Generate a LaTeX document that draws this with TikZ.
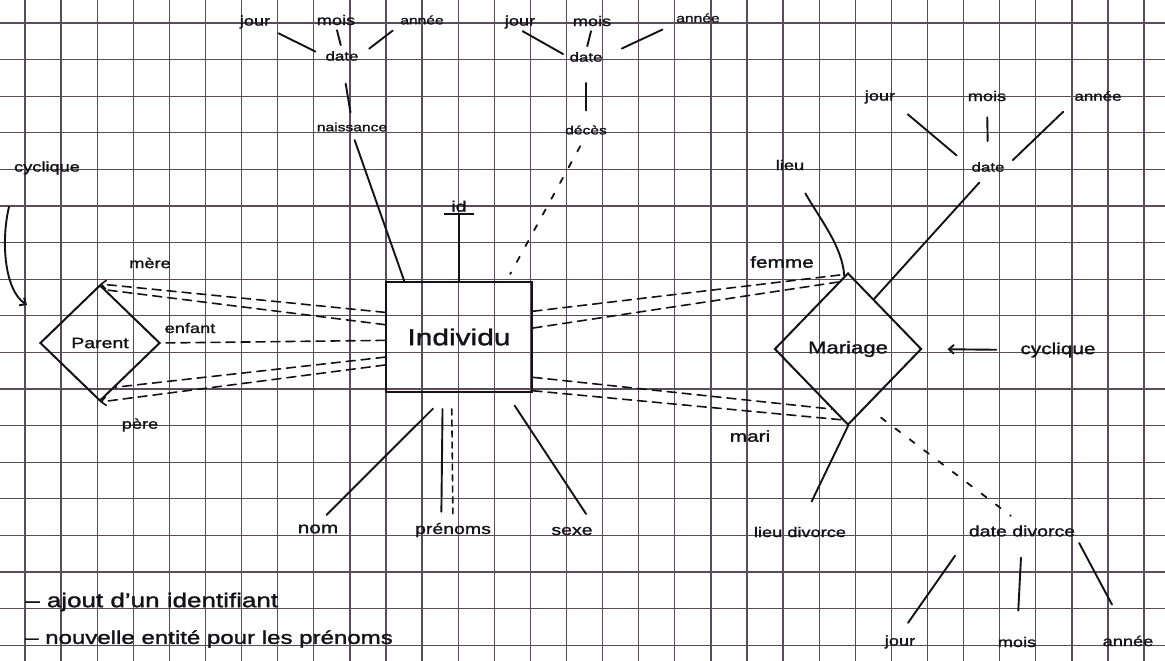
\documentclass[tikz,border=0pt]{standalone}
\usepackage{fontspec}
\setmainfont{Liberation Sans}[FakeStretch=1.3,FakeBold=1.5]
\usetikzlibrary{calc,arrows.meta,shapes.geometric}
\definecolor{ink}{RGB}{18,18,24}
\definecolor{gridc}{RGB}{92,76,90}
\newcommand\myfs[1]{\fontsize{#1}{#1}\selectfont}
\begin{document}
\begin{tikzpicture}[x=1pt,y=-1pt,
  gridline/.style={draw=gridc,line width=1.3pt},
  ink/.style={draw=ink,line width=1.9pt,line cap=round},
  lab/.style={inner sep=1pt,text=ink},
  dsh/.style={ink,line width=1.6pt,dash pattern=on 9pt off 6pt},
  dotl/.style={ink,line width=1.8pt,dash pattern=on 6pt off 12pt},
  pdsh/.style={ink,line width=1.6pt,dash pattern=on 6pt off 5pt},
  tip/.style={-{Straight Barb[length=5pt,width=9pt]}},
  shapebox/.style={draw=ink,line width=2pt,text=ink,inner sep=0pt}]
\useasboundingbox (0,0) rectangle (1165,661);
\fill[white] (0,0) rectangle (1165,661);
% grid
\foreach \i in {0,...,31} \draw[gridline] ({25+36.1*\i},0) -- ({25+36.1*\i},661);
\foreach \j in {0,...,17} \draw[gridline] (0,{23+36.6*\j}) -- (1165,{23+36.6*\j});

% main shapes
\node[shapebox,rectangle,minimum width=146pt,minimum height=110pt,font=\myfs{23}] (ind) at (459,337) {\raisebox{-5pt}{Individu}};
\node[shapebox,diamond,minimum width=120pt,minimum height=116pt,font=\myfs{15}] (par) at (100,343) {Parent};
\node[shapebox,diamond,minimum width=147pt,minimum height=152pt,font=\myfs{17}] (mar) at (848,349) {Mariage};

% naissance group
\node[lab,font=\myfs{14}] (j1) at (255,22) {jour};
\node[lab,font=\myfs{14}] (m1) at (336,20) {mois};
\node[lab,font=\myfs{12}] (a1) at (422,20) {année};
\node[lab,font=\myfs{13}] (d1) at (342,56) {date};
\node[lab,font=\myfs{12}] (nai) at (352,127) {naissance};
\draw[ink,shorten <=8pt,shorten >=10pt] (j1.south east) -- (d1.west);
\draw[ink,shorten <=4pt,shorten >=5pt] (m1.south) -- (d1.north);
\draw[ink,shorten <=8pt,shorten >=12pt] (a1.south west) -- (d1.east);
\draw[ink,shorten <=22pt,shorten >=9pt] (d1.south) -- (nai.north);
\draw[ink,shorten <=8pt] (nai.south) -- ($(ind.north west)!0.13!(ind.north east)$);

% deces group
\node[lab,font=\myfs{14}] (j2) at (520,22) {jour};
\node[lab,font=\myfs{14}] (m2) at (592,21) {mois};
\node[lab,font=\myfs{12}] (a2) at (698,18) {année};
\node[lab,font=\myfs{13}] (d2) at (586,57) {date};
\node[lab,font=\myfs{12}] (dec) at (586,130) {décès};
\draw[ink,shorten <=3pt,shorten >=6pt] (j2.south) -- (d2.west);
\draw[ink,shorten <=4pt,shorten >=5pt] (m2.south) -- (d2.north);
\draw[ink,shorten <=14pt,shorten >=20pt] (a2.south west) -- (d2.east);
\draw[ink,shorten <=20pt,shorten >=14pt] (d2.south) -- (dec.north);
\draw[dotl,shorten <=12pt,shorten >=8pt] (dec.south) -- ($(ind.north west)!0.82!(ind.north east)$);

% id
\node[lab,anchor=south,font=\myfs{15}] (id) at (459,213) {id};
\draw[ink,-{Bar[width=30pt,line width=2.4pt]}] (ind.north) -- (id.south);

% bottom attributes of Individu
\node[lab,font=\myfs{16}] (nom) at (318,529) {nom};
\node[lab,font=\myfs{15}] (pren) at (453,530) {prénoms};
\node[lab,font=\myfs{15}] (sexe) at (572,531) {sexe};
\draw[ink,shorten <=12pt,shorten >=22pt] (nom.north) -- ($(ind.south west)!0.43!(ind.south east)$);
\draw[ink,shorten <=16pt,shorten >=10pt] ($(ind.south west)!0.39!(ind.south east)$) -- ($(pren.north west)!0.35!(pren.north east)$);
\draw[pdsh,shorten <=16pt,shorten >=8pt] ($(ind.south west)!0.45!(ind.south east)$) -- (pren.north);
\draw[ink,shorten <=15pt,shorten >=14pt] ($(ind.south west)!0.82!(ind.south east)$) -- (sexe.north east);

% Parent side
\node[lab,font=\myfs{14}] (mere) at (150,263) {mère};
\node[lab,font=\myfs{14}] (enf) at (190,328) {enfant};
\node[lab,font=\myfs{14}] (pere) at (140,425) {père};
\node[lab,font=\myfs{14}] (cycL) at (47,168) {cyclique};
\coordinate (cycS) at (9,207);
\coordinate (cycE) at (27,305);
\draw[ink,tip] (cycS) .. controls (1,240) and (4,290) .. (cycE);
\draw[dsh,tip] ($(ind.north west)!0.28!(ind.south west)$) -- (par.north);
\draw[dsh] ($(ind.north west)!0.39!(ind.south west)$) -- ($(par.north)!0.1!(par.east)$);
\draw[dsh] ($(ind.north west)!0.53!(ind.south west)$) -- (par.east);
\draw[dsh] ($(ind.north west)!0.68!(ind.south west)$) -- ($(par.south)!0.25!(par.east)$);
\draw[dsh,tip] ($(ind.north west)!0.75!(ind.south west)$) -- (par.south);

% Mariage side
\node[lab,font=\myfs{16}] (fem) at (782,262) {femme};
\node[lab,font=\myfs{16}] (mari) at (750,436) {mari};
\draw[dsh] ($(ind.north east)!0.27!(ind.south east)$) -- ($(mar.north)!0.03!(mar.west)$);
\draw[dsh] ($(ind.north east)!0.42!(ind.south east)$) -- ($(mar.north)!0.13!(mar.west)$);
\draw[dsh] ($(ind.north east)!0.86!(ind.south east)$) -- ($(mar.south)!0.22!(mar.west)$);
\draw[dsh] ($(ind.north east)!0.98!(ind.south east)$) -- ($(mar.south)!0.08!(mar.west)$);

\node[lab,font=\myfs{16}] (cycR) at (1058,350) {cyclique};
\draw[ink,tip,shorten <=23pt,shorten >=25pt] (cycR.west) -- (mar.east);

% mariage date / lieu
\node[lab,font=\myfs{14}] (j3) at (880,97) {jour};
\node[lab,font=\myfs{14}] (m3) at (987,96) {mois};
\node[lab,font=\myfs{13}] (a3) at (1098,96) {année};
\node[lab,font=\myfs{13}] (d3) at (988,167) {date};
\node[lab,font=\myfs{14}] (lieu) at (790,165) {lieu};
\draw[ink,shorten <=15pt,shorten >=18pt] (j3.south east) -- (d3.west);
\draw[ink,shorten <=15pt,shorten >=20pt] (m3.south) -- (d3.north);
\draw[ink,shorten <=14pt,shorten >=10pt] (a3.south west) -- (d3.east);
\draw[ink,shorten <=13pt] (d3.south) -- ($(mar.north)!0.35!(mar.east)$);
\draw[ink] ($(lieu.south east)+(0,22)$) .. controls +(14,25) and +(-2,-30) .. ($(mar.north)!0.05!(mar.west)$);

% divorce
\node[lab,font=\myfs{14}] (ldiv) at (800,532) {lieu divorce};
\node[lab,font=\myfs{15}] (ddiv) at (1022,531) {date divorce};
\draw[ink,shorten >=27pt] (mar.south) -- (ldiv.north);
\draw[dotl,shorten <=18pt,shorten >=14pt] ($(mar.south)!0.25!(mar.east)$) -- (ddiv.north);
\node[lab,font=\myfs{14}] (j4) at (900,642) {jour};
\node[lab,font=\myfs{14}] (m4) at (1017,642) {mois};
\node[lab,font=\myfs{14}] (a4) at (1128,641) {année};
\draw[ink,shorten <=22pt,shorten >=14pt] (ddiv.south west) -- (j4.north);
\draw[ink,shorten <=20pt,shorten >=25pt] (ddiv.south) -- (m4.north);
\draw[ink,shorten <=6pt,shorten >=34pt] (ddiv.south east) -- (a4.north);

% notes
\node[lab,anchor=west,font=\myfs{20}] (n1) at (24,602) {– ajout d'un identifiant};
\node[lab,anchor=west,font=\myfs{18.5}] (n2) at (24,639) {– nouvelle entité pour les prénoms};
\end{tikzpicture}
\end{document}
